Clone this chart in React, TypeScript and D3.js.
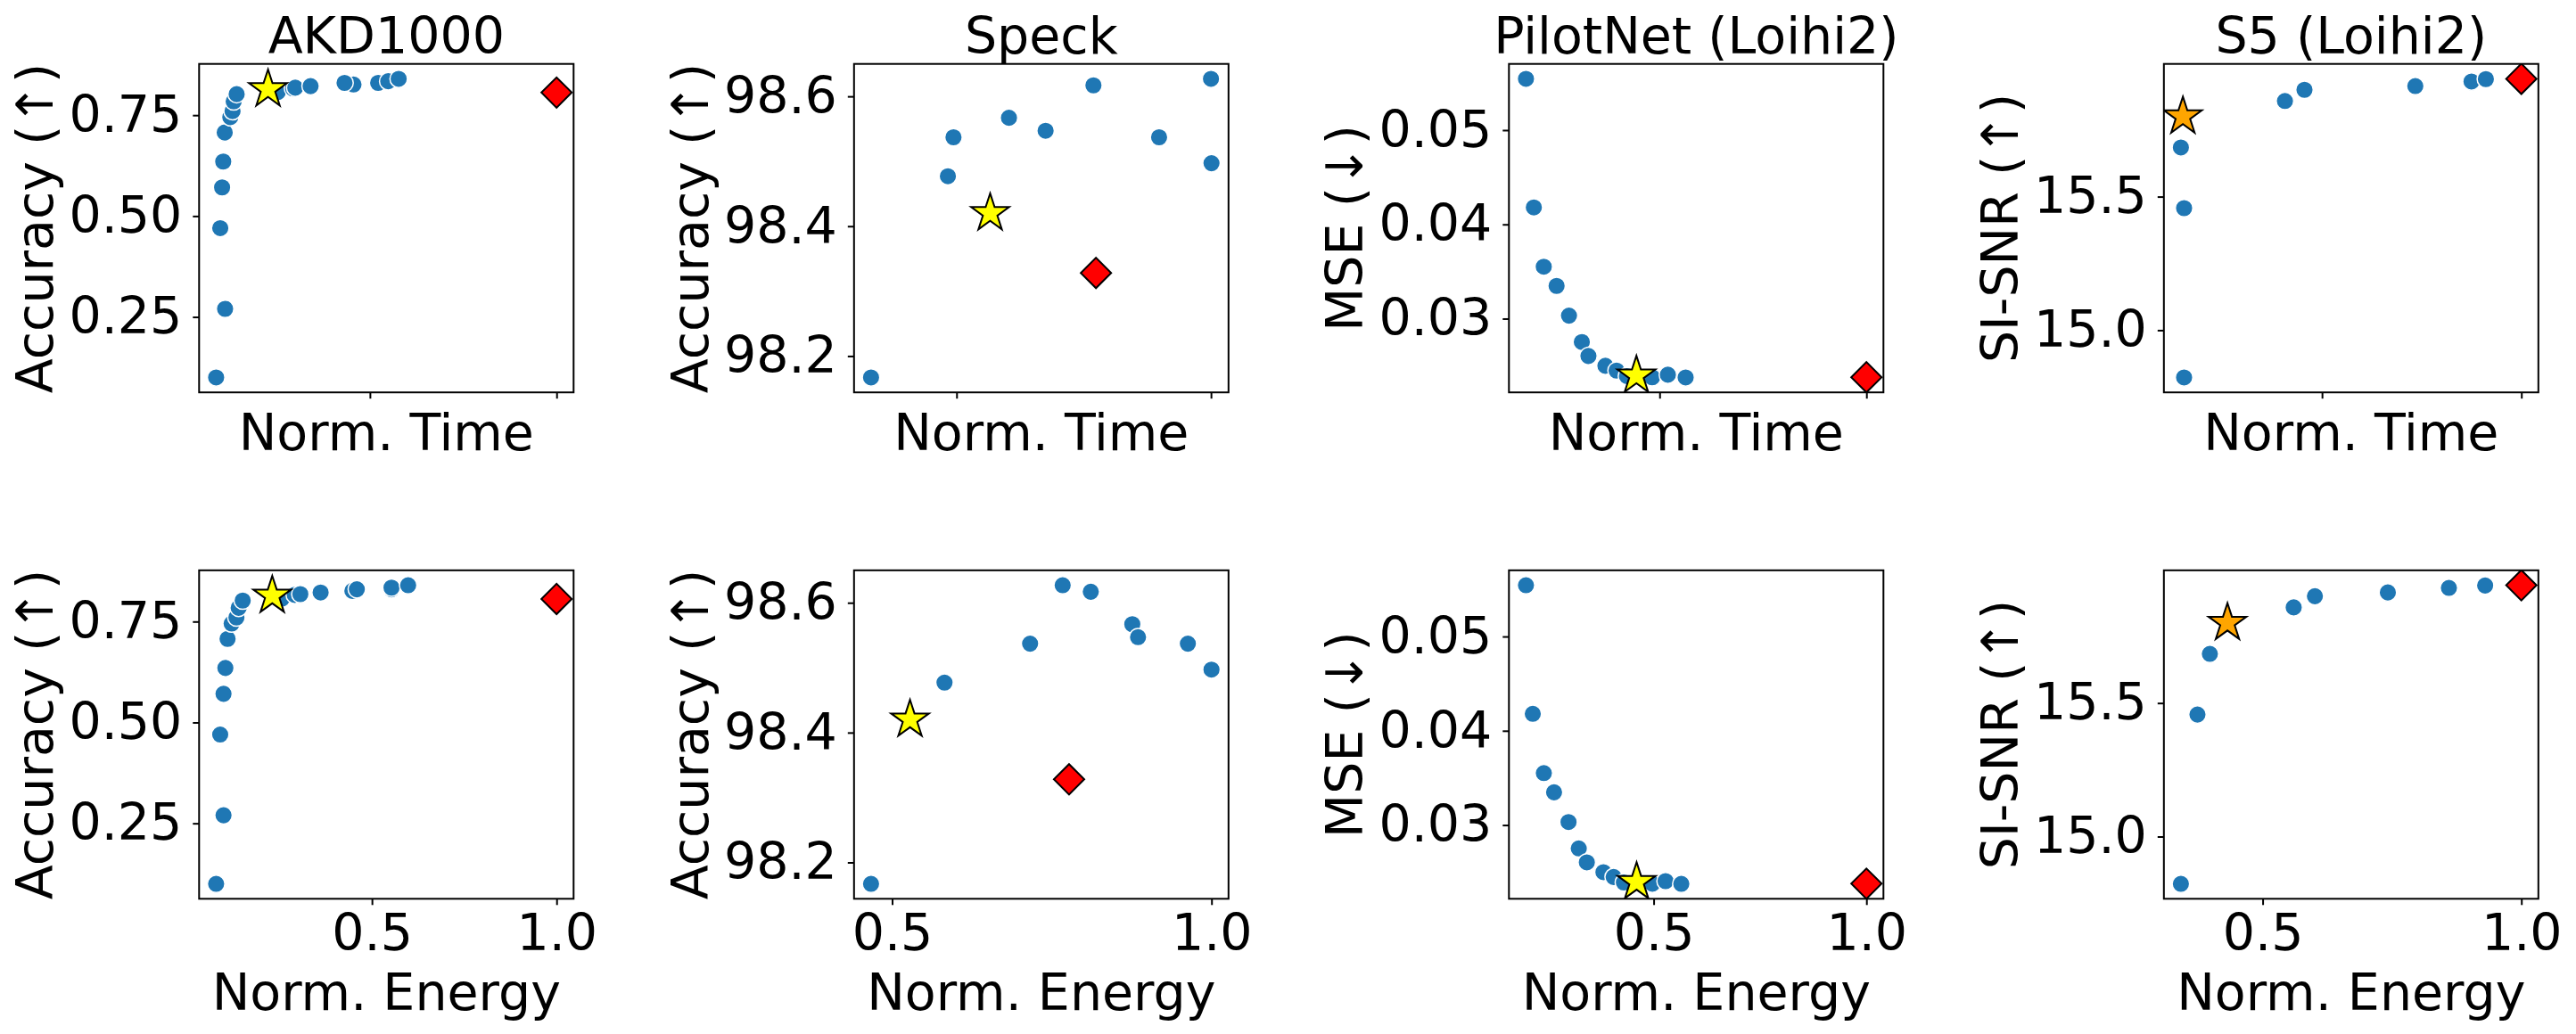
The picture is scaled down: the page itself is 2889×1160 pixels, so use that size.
import * as d3 from 'd3'
import React, { useEffect, useRef } from 'react'

const width = 2889
const height = 1160

const titles = ['AKD1000', 'Speck', 'PilotNet (Loihi2)', 'S5 (Loihi2)']
const yLabels = ['Accuracy (↑)', 'Accuracy (↑)', 'MSE (↓)', 'SI-SNR (↑)']
const rowLabels = ['Norm. Time', 'Norm. Energy']

// AKD1000
const akdAcc = [0.1, 0.27, 0.47, 0.571, 0.635, 0.707, 0.745, 0.76, 0.784, 0.802, 0.807, 0.816, 0.818, 0.822, 0.826, 0.83, 0.83, 0.834, 0.84]
const akdTime = [0.088, 0.112, 0.099, 0.104, 0.107, 0.111, 0.126, 0.132, 0.135, 0.143, 0.253, 0.294, 0.3, 0.341, 0.456, 0.432, 0.522, 0.549, 0.577]
const akdEnergy = [0.078, 0.098, 0.089, 0.098, 0.103, 0.109, 0.12, 0.133, 0.139, 0.15, 0.256, 0.291, 0.306, 0.361, 0.447, 0.459, 0.553, 0.553, 0.598]
const akdStar = [0.227, 0.23, 0.814] // time, energy, accuracy
const akdBase = [1.0, 1.0, 0.806]

// Speck
const speckAcc = [98.167, 98.477, 98.537, 98.567, 98.547, 98.617, 98.537, 98.627, 98.497]
const speckTime = [0.332, 0.483, 0.494, 0.603, 0.675, 0.769, 0.898, 1.0, 1.001]
const speckEnergy = [0.467, 0.582, 0.716, 0.876, 0.885, 0.811, 0.963, 0.767, 1.0]
const speckStar = [0.566, 0.528, 98.42]
const speckBase = [0.774, 0.777, 98.328]

// PilotNet (Loihi2)
const pilotMse = [0.05544, 0.0418, 0.03551, 0.03347, 0.03032, 0.02752, 0.02604, 0.025, 0.02449, 0.0239, 0.02378, 0.02405, 0.02376]
const pilotTime = [0.177, 0.196, 0.22, 0.251, 0.281, 0.312, 0.328, 0.369, 0.396, 0.421, 0.482, 0.52, 0.563]
const pilotEnergy = [0.2, 0.216, 0.242, 0.266, 0.3, 0.324, 0.343, 0.382, 0.406, 0.43, 0.497, 0.528, 0.565]
const pilotStar = [0.444, 0.46, 0.02395]
const pilotBase = [1.0, 1.0, 0.02378]

// S5 (Loihi2)
const s5Snr = [14.823, 15.457, 15.684, 15.858, 15.9, 15.914, 15.931, 15.94]
const s5Time = [0.154, 0.154, 0.146, 0.407, 0.456, 0.734, 0.875, 0.911]
const s5Energy = [0.342, 0.374, 0.398, 0.56, 0.601, 0.742, 0.86, 0.93]
const s5Star = [0.151, 0.432, 15.8]
const s5Base = [1.0, 1.0, 15.941]

const xTickValues = [0.5, 1.0]
const yTickValues = [
    [0.25, 0.5, 0.75],
    [98.2, 98.4, 98.6],
    [0.03, 0.04, 0.05],
    [15.0, 15.5],
]
const yTickFormats = ['.2f', '.1f', '.2f', '.1f']
const starColors = ['#ffff00', '#ffff00', '#ffff00', '#ffa500']

const panels = [
    { values: akdAcc, xs: [akdTime, akdEnergy], star: akdStar, base: akdBase },
    { values: speckAcc, xs: [speckTime, speckEnergy], star: speckStar, base: speckBase },
    { values: pilotMse, xs: [pilotTime, pilotEnergy], star: pilotStar, base: pilotBase },
    { values: s5Snr, xs: [s5Time, s5Energy], star: s5Star, base: s5Base },
]

// layout
const left0 = 223.3
const colStep = 734.5
const rowTops = [71.7, 639.8]
const axW = 420
const axH = 368.5
const font = 'DejaVu Sans, sans-serif'
const fontSize = '57px'

// matplotlib-like 5% margins
const padded = (vals: number[]): [number, number] => {
    const [lo, hi] = d3.extent(vals) as [number, number]
    const m = (hi - lo) * 0.05
    return [lo - m, hi + m]
}

const App = (): JSX.Element => {
    const ref = useRef<SVGSVGElement>(null)

    useEffect(() => {
        document.body.style.margin = '0'
        const svg = d3.select(ref.current)
        svg.selectAll('*').remove()

        rowTops.forEach((top, row) => {
            panels.forEach((p, col) => {
                const left = left0 + col * colStep
                const xv = p.xs[row]
                const sx = p.star[row]
                const bx = p.base[row]

                const x = d3.scaleLinear().domain(padded([...xv, sx, bx])).range([0, axW])
                const y = d3.scaleLinear().domain(padded([...p.values, p.star[2], p.base[2]])).range([axH, 0])

                const g = svg.append('g').attr('transform', `translate(${left},${top})`)
                const clipId = `clip-${row}-${col}`
                g.append('clipPath').attr('id', clipId).append('rect').attr('width', axW).attr('height', axH)

                // axes
                const yAxis = g
                    .append('g')
                    .call(
                        d3
                            .axisLeft(y)
                            .tickValues(yTickValues[col])
                            .tickSize(7)
                            .tickSizeOuter(0)
                            .tickPadding(12)
                            .tickFormat(d3.format(yTickFormats[col]) as any)
                    )
                yAxis.select('.domain').remove()

                const xAxis = g
                    .append('g')
                    .attr('transform', `translate(0,${axH})`)
                    .call(
                        d3
                            .axisBottom(x)
                            .tickValues(xTickValues)
                            .tickSize(7)
                            .tickSizeOuter(0)
                            .tickPadding(10.5)
                            .tickFormat(row === 1 ? (d3.format('.1f') as any) : () => '')
                    )
                xAxis.select('.domain').remove()

                g.selectAll('.tick line').attr('stroke', '#000').attr('stroke-width', 2)
                g.selectAll('.tick text')
                    .attr('fill', '#000')
                    .style('font-family', font)
                    .style('font-size', fontSize)

                // scatter points
                const marks = g.append('g').attr('clip-path', `url(#${clipId})`)
                marks
                    .selectAll('circle')
                    .data(p.values)
                    .enter()
                    .append('circle')
                    .attr('cx', (d, i) => x(xv[i]))
                    .attr('cy', (d) => y(d))
                    .attr('r', 9.8)
                    .attr('fill', '#1f77b4')
                    .attr('stroke', '#fff')
                    .attr('stroke-width', 1.5)

                // selected configuration
                marks
                    .append('path')
                    .attr('d', d3.symbol(d3.symbolStar, 560)())
                    .attr('transform', `translate(${x(sx)},${y(p.star[2])})`)
                    .attr('fill', starColors[col])
                    .attr('stroke', '#000')
                    .attr('stroke-width', 2)

                // baseline
                marks
                    .append('path')
                    .attr('d', d3.symbol(d3.symbolSquare, 580)())
                    .attr('transform', `translate(${x(bx)},${y(p.base[2])}) rotate(45)`)
                    .attr('fill', '#ff0000')
                    .attr('stroke', '#000')
                    .attr('stroke-width', 2)

                // frame
                g.append('rect')
                    .attr('width', axW)
                    .attr('height', axH)
                    .attr('fill', 'none')
                    .attr('stroke', '#000')
                    .attr('stroke-width', 2)

                // labels
                g.append('text')
                    .attr('transform', `translate(-164,${axH / 2}) rotate(-90)`)
                    .attr('text-anchor', 'middle')
                    .style('font-family', font)
                    .style('font-size', fontSize)
                    .text(yLabels[col])

                g.append('text')
                    .attr('x', axW / 2)
                    .attr('y', axH + (row === 0 ? 64.5 : 124.5))
                    .attr('text-anchor', 'middle')
                    .style('font-family', font)
                    .style('font-size', fontSize)
                    .text(rowLabels[row])

                if (row === 0) {
                    g.append('text')
                        .attr('x', axW / 2)
                        .attr('y', -11.7)
                        .attr('text-anchor', 'middle')
                        .style('font-family', font)
                        .style('font-size', fontSize)
                        .text(titles[col])
                }
            })
        })
    }, [])

    return <svg ref={ref} width={width} height={height} style={{ display: 'block', background: '#fff' }} />
}

export default App
